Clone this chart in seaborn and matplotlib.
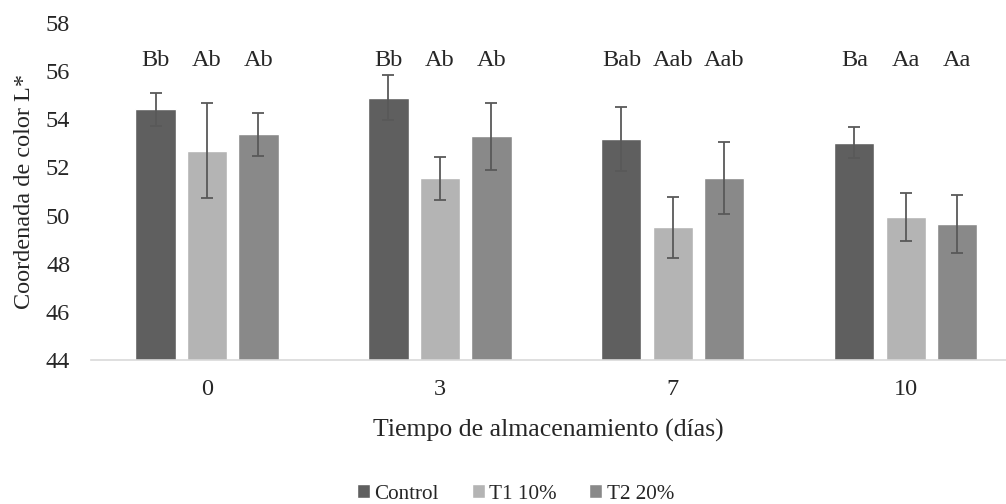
import numpy as np
import pandas as pd
import matplotlib
matplotlib.use("Agg")
import matplotlib.pyplot as plt
import seaborn as sns

# Datos
dias = ["0", "3", "7", "10"]
tratamientos = ["Control", "T1 10%", "T2 20%"]

control = [54.42, 54.90, 53.20, 53.03]
t1 = [52.70, 51.55, 49.52, 49.95]
t2 = [53.37, 53.29, 51.56, 49.66]

err_control = [0.68, 0.95, 1.33, 0.63]
err_t1 = [1.98, 0.90, 1.27, 1.00]
err_t2 = [0.88, 1.38, 1.48, 1.20]

letras_control = ["Bb", "Bb", "Bab", "Ba"]
letras_t1 = ["Ab", "Ab", "Aab", "Aa"]
letras_t2 = ["Ab", "Ab", "Aab", "Aa"]

colores = ["#5f5f5f", "#b4b4b4", "#898989"]

df = pd.DataFrame({
    "dia": dias * 3,
    "trat": np.repeat(tratamientos, len(dias)),
    "L": control + t1 + t2,
})
errores = [err_control, err_t1, err_t2]
letras = [letras_control, letras_t1, letras_t2]

sns.set_style("white")
plt.rcParams["font.family"] = ["Liberation Serif", "DejaVu Serif"]

fig = plt.figure(figsize=(10.06, 5.04), dpi=100)
ax = fig.add_axes([91 / 1006, 1 - 360 / 504, 1 - 91 / 1006, (360 - 23) / 504])

sns.barplot(data=df, x="dia", y="L", hue="trat", order=dias,
            hue_order=tratamientos, palette=colores, errorbar=None,
            width=0.663, gap=0.22, ax=ax, legend=True, saturation=1)

# Barras de error y letras de significancia
for cont, err, let in zip(ax.containers, errores, letras):
    xs = [b.get_x() + b.get_width() / 2 for b in cont]
    ys = [b.get_height() + b.get_y() for b in cont]
    ax.errorbar(xs, ys, yerr=err, fmt="none", ecolor="#595959",
                elinewidth=1.3, capsize=4, capthick=1.3)
    for x, t in zip(xs, let):
        ax.text(x, 56.2, t, ha="center", va="baseline", fontsize=17.5)

ax.set_ylim(44, 58)
ax.set_yticks(range(44, 59, 2))
ax.set_xlim(-0.498, 3.43)
ax.set_xlabel("Tiempo de almacenamiento (días)", fontsize=18.5, labelpad=13)
ax.set_ylabel("Coordenada de color L*", fontsize=17.5, labelpad=8)
ax.tick_params(axis="y", length=0, labelsize=17.5, pad=15)
ax.tick_params(axis="x", length=0, labelsize=17.5, pad=14)

sns.despine(ax=ax, left=True, top=True, right=True)
ax.spines["bottom"].set_color("#d9d9d9")
ax.spines["bottom"].set_linewidth(1.2)

ax.legend(loc="center", bbox_to_anchor=(0.464, (494 - 360) / -337),
          ncol=3, frameon=False, fontsize=15.2, handlelength=0.62,
          handleheight=0.62, handletextpad=0.2, columnspacing=1.55,
          borderaxespad=0)

fig.savefig("out.png", dpi=100)
